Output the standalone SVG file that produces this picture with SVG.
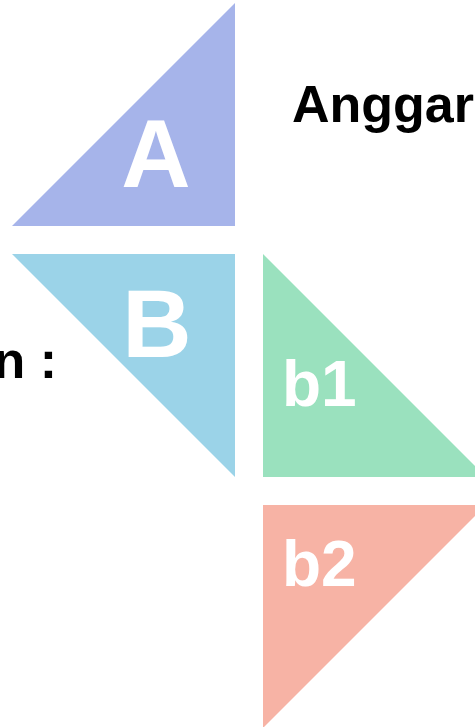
<svg xmlns="http://www.w3.org/2000/svg" width="475" height="727" viewBox="0 0 475 727">
<style>
.lbl{font-family:"Liberation Sans",Arial,sans-serif;font-weight:bold;fill:#ffffff}
.big{font-size:96px;text-anchor:middle}
.small{font-size:64px}
.title{font-family:"Liberation Sans",Arial,sans-serif;font-weight:bold;font-size:52px;fill:#000000}
</style>
<rect width="475" height="727" fill="#ffffff"/>
<g id="A">
<polygon points="12,226 235,226 235,3" fill="#A6B4EA"/>
<text class="lbl big" x="156" y="187">A</text>
</g>
<g id="B">
<polygon points="12,254 235,254 235,477" fill="#9BD3E8"/>
<text class="lbl big" x="157" y="357">B</text>
</g>
<g id="b1">
<polygon points="263,254 263,477 486,477" fill="#9AE1BE"/>
<text class="lbl small" x="282" y="406">b1</text>
</g>
<g id="b2">
<polygon points="263,505 486,505 263,728" fill="#F7B3A5"/>
<text class="lbl small" x="282" y="586">b2</text>
</g>
<g id="labels">
<text class="title" x="292" y="122">Anggar</text>
<text class="title" x="57" y="378" text-anchor="end">n :</text>
</g>
<g id="connectors"></g>
</svg>
